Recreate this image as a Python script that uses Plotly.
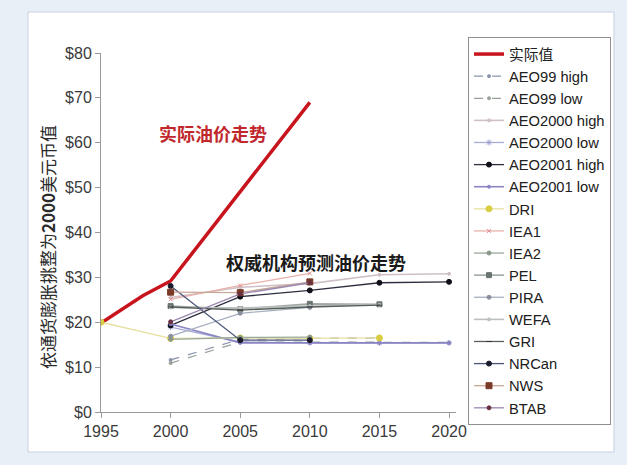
import plotly.graph_objects as go

# ---------------- data ----------------
actual_years = [1995, 1998, 2000, 2005, 2010]
actual_vals = [19.8, 25.9, 29.2, 49.0, 69.0]

series_names = ["AEO99 high", "AEO99 low", "AEO2000 high", "AEO2000 low",
                "AEO2001 high", "AEO2001 low", "DRI", "IEA1", "IEA2", "PEL",
                "PIRA", "WEFA", "GRI", "NRCan", "NWS", "BTAB"]

series_x = {
    "AEO99 high": [2000, 2005, 2010, 2015],
    "AEO99 low": [2000, 2005, 2010, 2015, 2020],
    "AEO2000 high": [2000, 2005, 2010, 2015, 2020],
    "AEO2000 low": [2000, 2005, 2010, 2015, 2020],
    "AEO2001 high": [2000, 2005, 2010, 2015, 2020],
    "AEO2001 low": [2000, 2005, 2010, 2015, 2020],
    "DRI": [1995, 2000, 2005, 2010, 2015],
    "IEA1": [2000, 2005, 2010],
    "IEA2": [2000, 2005, 2010],
    "PEL": [2000, 2005, 2010, 2015],
    "PIRA": [2000, 2005, 2010],
    "WEFA": [2000, 2005, 2010, 2015],
    "GRI": [2000, 2005, 2010, 2015],
    "NRCan": [2000, 2005, 2010],
    "NWS": [2000, 2005, 2010],
    "BTAB": [2000, 2005, 2010],
}
series_y = {
    "AEO99 high": [11.6, 16.2, 16.4, 16.5],
    "AEO99 low": [10.9, 15.6, 15.6, 15.5, 15.5],
    "AEO2000 high": [25.5, 27.8, 28.6, 30.6, 30.8],
    "AEO2000 low": [18.9, 15.6, 15.4, 15.4, 15.4],
    "AEO2001 high": [19.3, 25.7, 27.1, 28.8, 29.0],
    "AEO2001 low": [19.6, 15.4, 15.4, 15.4, 15.4],
    "DRI": [20.0, 16.4, 16.5, 16.4, 16.5],
    "IEA1": [25.1, 28.2, 30.9],
    "IEA2": [16.2, 16.6, 16.7],
    "PEL": [23.6, 22.9, 24.1, 24.0],
    "PIRA": [16.9, 22.0, 23.3],
    "WEFA": [23.3, 23.2, 23.6, 23.9],
    "GRI": [23.4, 22.7, 23.4, 23.8],
    "NRCan": [28.1, 16.0, 16.0],
    "NWS": [26.7, 26.6, 29.0],
    "BTAB": [20.1, 26.3, 28.8],
}

y_ticks = [0, 10, 20, 30, 40, 50, 60, 70, 80]
y_tick_labels = ["$0", "$10", "$20", "$30", "$40", "$50", "$60", "$70", "$80"]
x_ticks = [1995, 2000, 2005, 2010, 2015, 2020]

# ---------------- styles ----------------
styles = {
    "AEO99 high": dict(lc="#8a94ac", dash="dash", mc="#8a94ac", ms=3, sym="circle", w=1.2),
    "AEO99 low": dict(lc="#98a098", dash="dash", mc="#98a098", ms=3, sym="circle", w=1.2),
    "AEO2000 high": dict(lc="#d0c0c6", dash="solid", mc="#d0c0c6", ms=3, sym="circle", w=1.6),
    "AEO2000 low": dict(lc="#a8acd6", dash="solid", mc="#9aa0d0", ms=5, sym="asterisk", w=1.3),
    "AEO2001 high": dict(lc="#2e2e40", dash="solid", mc="#101018", ms=5, sym="circle", w=1.3),
    "AEO2001 low": dict(lc="#8a84c4", dash="solid", mc="#8a84c4", ms=3, sym="circle", w=1.6),
    "DRI": dict(lc="#e8e0a0", dash="solid", mc="#d8cc40", ms=6, sym="circle", w=1.3),
    "IEA1": dict(lc="#eab0aa", dash="solid", mc="#e09090", ms=4, sym="x-thin-open", w=1.3),
    "IEA2": dict(lc="#9aa89a", dash="solid", mc="#8a988a", ms=4, sym="circle", w=1.3),
    "PEL": dict(lc="#a0a8a4", dash="solid", mc="#6a7470", ms=5, sym="square", w=1.6),
    "PIRA": dict(lc="#a8b0c0", dash="solid", mc="#8890a0", ms=4, sym="circle", w=1.3),
    "WEFA": dict(lc="#bcc0c0", dash="solid", mc="#bcc0c0", ms=3, sym="circle", w=1.6),
    "GRI": dict(lc="#58605a", dash="solid", mc="#303030", ms=4, sym="line-ew-open", w=1.3),
    "NRCan": dict(lc="#4a5478", dash="solid", mc="#1a1a2a", ms=5, sym="circle", w=1.3),
    "NWS": dict(lc="#c8a898", dash="solid", mc="#7a3a28", ms=6, sym="square", w=1.3),
    "BTAB": dict(lc="#9a88b0", dash="solid", mc="#6a3040", ms=4, sym="circle", w=1.3),
}

fig = go.Figure()

fig.add_trace(go.Scatter(
    x=actual_years, y=actual_vals, mode="lines", name="实际值",
    line=dict(color="#c8141c", width=3.5),
))

for name in series_names:
    s = styles[name]
    fig.add_trace(go.Scatter(
        x=series_x[name], y=series_y[name], mode="lines+markers", name=name,
        line=dict(color=s["lc"], width=s["w"], dash=s["dash"]),
        marker=dict(color=s["mc"], size=s["ms"], symbol=s["sym"],
                    line=dict(color=s["mc"], width=1)),
    ))

L, R, T, B = 101, 171, 53, 53
PW, PH = 627 - L - R, 465 - T - B


def px2paper_x(px):
    return (px - L) / PW


def px2paper_y(py):
    return (465 - B - py) / PH


fig.update_layout(
    width=627, height=465,
    margin=dict(l=L, r=R, t=T, b=B, pad=0),
    paper_bgcolor="#e9eff7",
    plot_bgcolor="white",
    font=dict(family="Liberation Sans, Arial, Noto Sans CJK SC", size=16, color="#3a3a3a"),
    showlegend=True,
    legend=dict(
        x=px2paper_x(468), xanchor="left",
        y=px2paper_y(37), yanchor="top",
        bgcolor="white", bordercolor="#909090", borderwidth=1,
        font=dict(size=14.7, color="#202020", family="Liberation Sans, Arial, Noto Sans CJK SC"),
        itemwidth=30, tracegroupgap=0, maxheight=420,
    ),
    xaxis=dict(
        range=[1995, 2020.5], tickvals=x_ticks, showgrid=False, zeroline=False,
        showline=True, linecolor="#9a9a9a", linewidth=1,
        ticks="outside", ticklen=5, tickcolor="#9a9a9a",
        tickfont=dict(size=16, color="#3a3a3a"),
    ),
    yaxis=dict(
        range=[0, 80], tickvals=y_ticks, ticktext=y_tick_labels,
        showgrid=False, zeroline=False,
        showline=True, linecolor="#9a9a9a", linewidth=1,
        ticks="outside", ticklen=5, tickcolor="#9a9a9a",
        tickfont=dict(size=16, color="#3a3a3a"),
    ),
    shapes=[dict(
        type="rect", xref="paper", yref="paper", layer="below",
        x0=px2paper_x(28), x1=px2paper_x(614),
        y0=px2paper_y(452), y1=px2paper_y(12),
        fillcolor="white", line=dict(color="#c5d0e0", width=1),
    )],
    annotations=[
        dict(text="实际油价走势", x=2003.05, y=62.2, xref="x", yref="y",
             showarrow=False, font=dict(size=18, color="#c0282d",
                                        family="Noto Sans CJK SC", weight="bold")),
        dict(text="权威机构预测油价走势", x=2010.45, y=33.4, xref="x", yref="y",
             showarrow=False, font=dict(size=18, color="#1a1a1a",
                                        family="Noto Sans CJK SC", weight="bold")),
        dict(text="依通货膨胀挑整为<b>2000</b>美元币值", textangle=-90,
             x=px2paper_x(47), y=px2paper_y(247), xref="paper", yref="paper",
             xanchor="center", yanchor="middle",
             showarrow=False, font=dict(size=17, color="#2a2a2a",
                                        family="Noto Sans CJK SC")),
    ],
)

fig.write_html("out.html")
